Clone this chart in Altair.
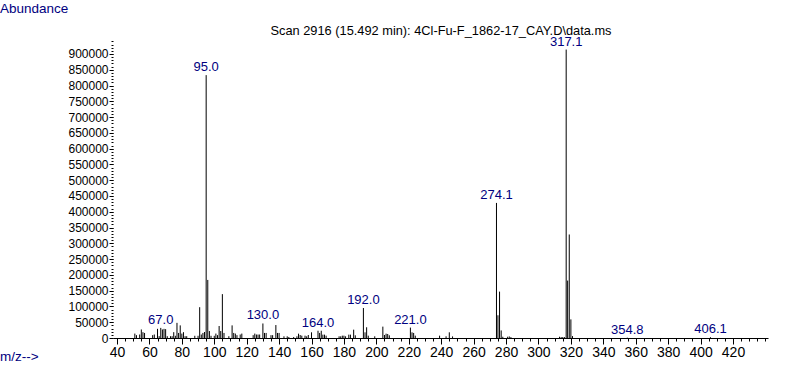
import altair as alt
import pandas as pd

# ---- data ----
mz_values = [
    51, 52, 54, 55, 56, 57, 62, 63, 65, 66, 67.0, 68, 69, 70, 71, 73, 74, 75, 76, 77,
    78, 79, 80, 81, 82, 83, 88, 90, 91, 92, 93, 94, 95.0, 96, 97, 98, 100, 101, 102, 103,
    104, 105, 106, 109, 111, 112, 113, 114, 116, 117, 124, 125, 126, 127, 128, 130.0, 131, 132, 135, 136,
    138, 139, 140, 143, 145, 146, 149, 151, 152, 153, 154, 156, 157, 158, 160, 164.0, 165, 166, 167, 168,
    169, 177, 178, 179, 180, 181, 183, 184, 186, 187, 192.0, 193, 194, 195, 199, 204, 205, 206, 207, 208,
    221.0, 222, 223, 224, 239, 243, 245, 247, 274.1, 275, 276, 277, 278, 281, 282, 283, 313, 314, 315, 316,
    317.1, 318, 319, 320, 321, 354.8, 406.1,
]
abundance = [
    14000, 9000, 11000, 27000, 18500, 16000, 9000, 11000, 29000, 6000, 32000, 27000, 29000, 28000, 5700, 5700, 5700, 18500, 7000, 48000,
    16000, 40000, 14000, 18500, 5700, 5700, 7000, 7000, 97600, 11000, 16000, 19000, 833000, 184000, 22000, 7000, 7000, 14000, 9000, 38000,
    22000, 139000, 16000, 5700, 40000, 16000, 14000, 9000, 11000, 14000, 9000, 14000, 11000, 11000, 11000, 46000, 16000, 16000, 9000, 9000,
    41000, 16000, 16000, 5300, 5300, 3200, 3200, 5300, 13700, 9500, 7400, 7400, 5300, 9500, 18000, 23000, 16000, 23000, 10600, 10600,
    7400, 5300, 5300, 7400, 7400, 5300, 10600, 10600, 26400, 8500, 95000, 18000, 34000, 7400, 5300, 36000, 9500, 13700, 12700, 8500,
    33000, 18000, 16000, 7400, 7400, 5300, 18000, 5000, 428000, 72000, 147000, 24000, 4000, 4000, 5000, 3000, 4000, 3000, 3000, 3000,
    914000, 182000, 328000, 59000, 6000, 1000, 2500,
]
labelled_mz = [67.0, 95.0, 130.0, 164.0, 192.0, 221.0, 274.1, 317.1, 354.8, 406.1]
x_major_ticks = list(range(40, 421, 20))
x_minor_ticks = list(range(40, 441, 5))
y_major_ticks = list(range(0, 900001, 50000))
y_minor_ticks = list(range(0, 947501, 10000))

title_text = "Scan 2916 (15.492 min): 4Cl-Fu-F_1862-17_CAY.D\\data.ms"
y_caption = "Abundance"
x_caption = "m/z-->"

df = pd.DataFrame({"mz": mz_values, "abundance": abundance})
lab_df = df[df["mz"].isin(labelled_mz)].copy()
lab_df["label"] = lab_df["mz"].map(lambda v: f"{v:.1f}")

NAVY = "#000080"
FONT = "Liberation Sans"

x_scale = alt.Scale(domain=[37.53, 441.6], nice=False, zero=False)
y_scale = alt.Scale(domain=[0, 947500], nice=False)

x_axis_major = alt.Axis(
    title="", orient="bottom", values=x_major_ticks, format="d",
    tickSize=6, tickColor="black", domainColor="black", grid=False,
    labelFont=FONT, labelFontSize=14, labelColor="black", labelPadding=1,
    labelOverlap=False, labelFlush=False,
)
y_axis_major = alt.Axis(
    title="", orient="left", values=y_major_ticks, format="d",
    tickSize=4, tickColor="black", domain=False, grid=False,
    labelFont=FONT, labelFontSize=12, labelColor="black", labelPadding=1,
    labelOverlap=False, labelFlush=False,
)
x_axis_minor = alt.Axis(
    title="", orient="bottom", values=x_minor_ticks, tickSize=3, tickColor="black",
    labels=False, domain=False, grid=False,
)
y_axis_minor = alt.Axis(
    title="", orient="left", values=y_minor_ticks, tickSize=2, tickColor="black",
    labels=False, domain=False, grid=False,
)

peaks = alt.Chart(df).mark_rule(color="black", strokeWidth=1).encode(
    x=alt.X("mz:Q", scale=x_scale, axis=x_axis_major),
    y=alt.Y("abundance:Q", scale=y_scale, axis=y_axis_major),
    y2=alt.datum(0),
)

minor = alt.Chart(df).mark_point(opacity=0).encode(
    x=alt.X("mz:Q", scale=x_scale, axis=x_axis_minor),
    y=alt.Y("abundance:Q", scale=y_scale, axis=y_axis_minor),
)

peak_labels = alt.Chart(lab_df).mark_text(
    color=NAVY, font=FONT, fontSize=13, baseline="alphabetic", align="center", dy=-4
).encode(
    x=alt.X("mz:Q", scale=x_scale, axis=None),
    y=alt.Y("abundance:Q", scale=y_scale, axis=None),
    text="label:N",
)

title_mark = alt.Chart(pd.DataFrame({"t": [title_text]})).mark_text(
    color="black", font=FONT, fontSize=12.8, baseline="alphabetic", align="center"
).encode(x=alt.value(328), y=alt.value(-4), text="t:N")

ycap_mark = alt.Chart(pd.DataFrame({"t": [y_caption]})).mark_text(
    color=NAVY, font=FONT, fontSize=13.5, baseline="alphabetic", align="left"
).encode(x=alt.value(-113), y=alt.value(-26), text="t:N")

xcap_mark = alt.Chart(pd.DataFrame({"t": [x_caption]})).mark_text(
    color=NAVY, font=FONT, fontSize=13.5, baseline="alphabetic", align="left"
).encode(x=alt.value(-113), y=alt.value(322), text="t:N")

chart = (
    alt.layer(peaks, minor, peak_labels, title_mark, ycap_mark, xcap_mark)
    .resolve_axis(x="independent", y="independent")
    .properties(
        width=655,
        height=299,
        padding={"left": 113, "top": 39, "right": 19, "bottom": 29},
        autosize=alt.AutoSizeParams(type="none"),
        background="white",
    )
    .configure_view(strokeWidth=0)
)

chart.save("out.html", embed_options={"renderer": "svg", "actions": False})
